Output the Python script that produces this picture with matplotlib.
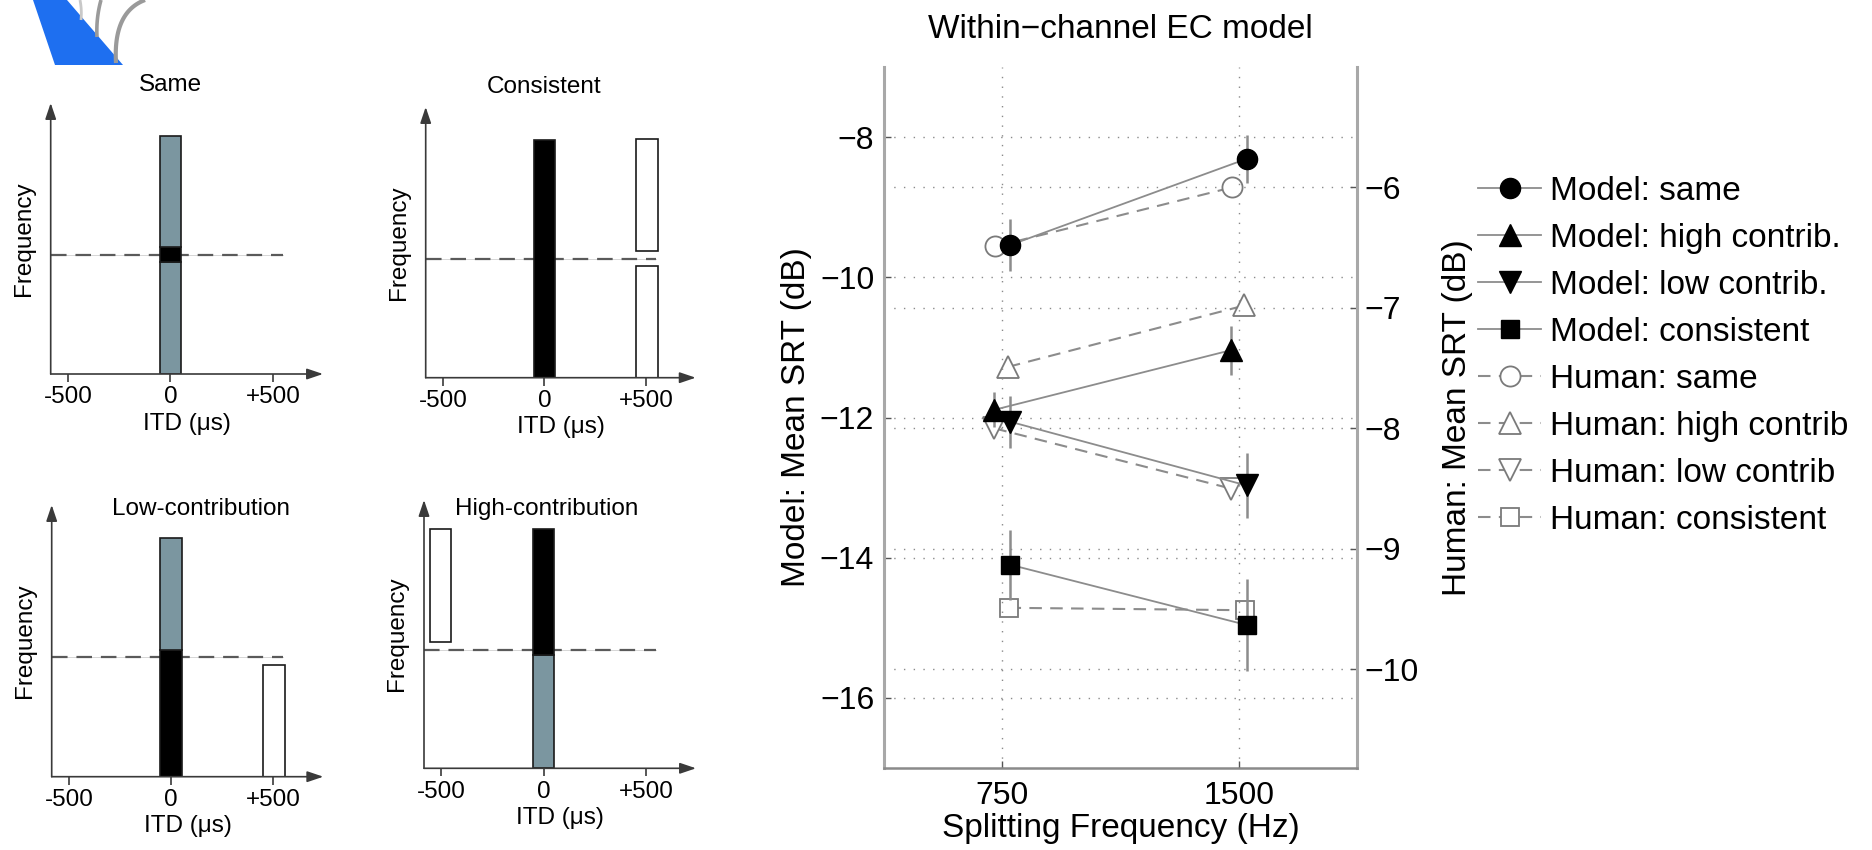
import matplotlib
matplotlib.use('Agg')
import matplotlib.pyplot as plt
import numpy as np
from matplotlib.patches import Polygon
from matplotlib.lines import Line2D

plt.rcParams['font.family'] = ['Liberation Sans', 'DejaVu Sans']

W, H = 1872, 850
fig = plt.figure(figsize=(W / 100, H / 100), dpi=100)

# ------------------------------------------------------------------ data
split_freq = [750, 1500]
freq_ticks = [750, 1500]

model_same = [-9.54, -8.31]
model_same_err = [0.37, 0.34]
model_high = [-11.89, -11.04]
model_high_err = [0.25, 0.35]
model_low = [-12.06, -12.97]
model_low_err = [0.37, 0.46]
model_cons = [-14.10, -14.96]
model_cons_err = [0.50, 0.66]

human_same = [-6.49, -6.00]
human_high = [-7.49, -6.98]
human_low = [-8.00, -8.50]
human_cons = [-9.49, -9.51]

left_ticks = [-16, -14, -12, -10, -8]
right_ticks = [-10, -9, -8, -7, -6]

model_labels = ['Model: same', 'Model: high contrib.', 'Model: low contrib.', 'Model: consistent']
human_labels = ['Human: same', 'Human: high contrib', 'Human: low contrib', 'Human: consistent']

# horizontal jitter (Hz) used in the original to separate the markers
model_jitter = [25, -25, 25, 25]
human_jitter = [-22, 18, -25, 20]

# schematic panels
itd_ticks = [-500, 0, 500]
itd_ticklabels = ['-500', '0', '+500']
panel_titles = ['Same', 'Consistent', 'Low-contribution', 'High-contribution']
# bars: (centre ITD, bottom, top, fill)
same_bars = [(0, 0.0, 0.413, 'grey'), (0, 0.413, 0.469, 'black'), (0, 0.469, 0.878, 'grey')]
consistent_bars = [(0, 0.0, 0.878, 'black'), (505, 0.0, 0.413, 'white'), (505, 0.467, 0.880, 'white')]
low_bars = [(0, 0.0, 0.466, 'black'), (0, 0.466, 0.878, 'grey'), (505, 0.0, 0.411, 'white')]
high_bars = [(0, 0.0, 0.422, 'grey'), (0, 0.422, 0.892, 'black'), (-505, 0.472, 0.892, 'white')]
panel_bars = [same_bars, consistent_bars, low_bars, high_bars]
bar_width = 106
boundary_level = 0.44
boundary_extent = [-585, 550]
itd_range = (-585, 745)

fills = {'grey': '#7b96a0', 'black': '#000000', 'white': '#ffffff'}

# ------------------------------------------------------------------ logo (decorative, cropped)
lax = fig.add_axes([0, 1 - 70 / H, 150 / W, 70 / H])
lax.set_xlim(0, 150)
lax.set_ylim(70, 0)
lax.axis('off')
lax.add_patch(Polygon([[33, 0], [67, 0], [123, 65], [55, 65]], closed=True,
                      facecolor='#1e6ff0', edgecolor='none'))


def bez(p0, p1, p2, n=30):
    t = np.linspace(0, 1, n)[:, None]
    p0, p1, p2 = map(np.array, (p0, p1, p2))
    return (1 - t) ** 2 * p0 + 2 * (1 - t) * t * p1 + t ** 2 * p2


for (p0, p1, p2, lw, col) in [((80, 0), (82, 10), (81, 20), 2.0, '#c8c8c8'),
                              ((101, 0), (96, 18), (97, 37), 2.6, '#9a9a9a'),
                              ((145, 0), (113, 12), (116, 63), 3.0, '#9a9a9a')]:
    c = bez(p0, p1, p2)
    lax.plot(c[:, 0], c[:, 1], color=col, lw=lw, solid_capstyle='butt')

# ------------------------------------------------------------------ schematic panels
# (left px, bottom px from top, width px, height px)
panel_boxes = [(50.7, 374, 272.3, 271), (425.7, 377.7, 270, 270.7),
               (51.7, 776.7, 271.6, 271.7), (424, 768.3, 272, 268.3)]
title_pos = [(0, 1.068), (0, 1.075), (144, 0.985), (17, 0.965)]
axis_col = '#3a3a3a'
small_fs = 17.5

for (l, b, w, h), bars, title, tpos in zip(panel_boxes, panel_bars, panel_titles, title_pos):
    pax = fig.add_axes([l / W, 1 - b / H, w / W, h / H])
    pax.set_xlim(*itd_range)
    pax.set_ylim(0, 1)
    for s in pax.spines.values():
        s.set_visible(False)
    # boundary frequency (dashed)
    pax.plot(boundary_extent, [boundary_level, boundary_level], color='#d0d0d0', lw=0.6, zorder=1)
    pax.plot(boundary_extent, [boundary_level, boundary_level], color='#5a5a5a', lw=1.6,
             ls=(0, (7, 4)), zorder=1.5)
    for cx, y0, y1, f in bars:
        pax.bar(cx, y1 - y0, bottom=y0, width=bar_width, color=fills[f],
                edgecolor='#1a1a1a', linewidth=1.2, zorder=2)
    # axes with arrows
    pax.annotate('', xy=(1, 0), xytext=(0, 0), xycoords='axes fraction',
                 arrowprops=dict(arrowstyle='-|>,head_length=0.65,head_width=0.22',
                                 color=axis_col, lw=1.2, shrinkA=0, shrinkB=0,
                                 mutation_scale=15), annotation_clip=False, zorder=5)
    pax.annotate('', xy=(0, 1), xytext=(0, 0), xycoords='axes fraction',
                 arrowprops=dict(arrowstyle='-|>,head_length=0.65,head_width=0.22',
                                 color=axis_col, lw=1.2, shrinkA=0, shrinkB=0,
                                 mutation_scale=15), annotation_clip=False, zorder=5)
    pax.set_xticks(itd_ticks)
    pax.set_xticklabels(itd_ticklabels)
    pax.set_yticks([])
    pax.tick_params(axis='x', direction='out', length=6, width=1.2, color=axis_col,
                    labelsize=small_fs, pad=3)
    pax.set_xlabel('ITD (μs)', fontsize=small_fs, labelpad=3)
    pax.set_ylabel('Frequency', fontsize=small_fs)
    pax.yaxis.set_label_coords(-0.058, 0.5)
    pax.text(tpos[0], tpos[1], title, transform=pax.get_xaxis_transform(),
             ha='center', va='center', fontsize=small_fs)
    pax.patch.set_visible(False)

# ------------------------------------------------------------------ main chart
ax = fig.add_axes([884 / W, (H - 768) / H, (1357 - 884) / W, (768 - 67) / H])
ax2 = ax.twinx()
ax.set_zorder(3)
ax2.set_zorder(2)
ax.patch.set_visible(False)

ax.set_xlim(375, 1875)
ax.set_ylim(-17, -7)
ax2.set_ylim(-10.82, -5.0)

ax.set_xticks(freq_ticks)
ax.set_xticklabels([str(f) for f in freq_ticks])
ax.set_yticks(left_ticks)
ax.set_yticklabels(['\u2212%d' % abs(v) for v in left_ticks])
ax2.set_yticks(right_ticks)
ax2.set_yticklabels(['\u2212%d' % abs(v) for v in right_ticks])

grid_kw = dict(color='#8a8a8a', lw=1.0, ls=(0, (1, 6)))
ax.xaxis.grid(True, **grid_kw)
ax.yaxis.grid(True, **grid_kw)
ax2.yaxis.grid(True, **grid_kw)
ax.set_axisbelow(True)
ax2.set_axisbelow(True)

for a in (ax, ax2):
    a.spines['top'].set_visible(False)
ax.spines['right'].set_visible(False)
ax2.spines['left'].set_visible(False)
ax2.spines['bottom'].set_visible(False)
ax.spines['left'].set_color('#a8a8a8')
ax.spines['left'].set_linewidth(2.2)
ax2.spines['right'].set_color('#a8a8a8')
ax2.spines['right'].set_linewidth(2.2)
ax.spines['bottom'].set_color('#8a8a8a')
ax.spines['bottom'].set_linewidth(1.8)

tick_fs = 23
lab_fs = 24
ax.tick_params(axis='both', direction='in', length=5, width=1.0, color='#555555',
               labelsize=tick_fs)
ax.tick_params(axis='y', pad=7)
ax.tick_params(axis='x', pad=9)
ax2.tick_params(axis='y', direction='in', length=5, width=1.0, color='#555555',
                labelsize=tick_fs, pad=5)

ax.set_title('Within\u2212channel EC model', fontsize=lab_fs, pad=21)
ax.set_xlabel('Splitting Frequency (Hz)', fontsize=lab_fs, labelpad=2)
ax.set_ylabel('Model: Mean SRT (dB)', fontsize=lab_fs, labelpad=6)
ax2.set_ylabel('Human: Mean SRT (dB)', fontsize=lab_fs, labelpad=17)

x = np.array(split_freq, dtype=float)
markers = ['o', '^', 'v', 's']
msize = {'o': 14.5, '^': 16, 'v': 16, 's': 13}
line_col = '#8c8c8c'

model_vals = [model_same, model_high, model_low, model_cons]
model_errs = [model_same_err, model_high_err, model_low_err, model_cons_err]
human_vals = [human_same, human_high, human_low, human_cons]

handles = []
for vals, mk, dx, lab in zip(human_vals, markers, human_jitter, human_labels):
    ax2.plot(x + dx, vals, color=line_col, lw=1.5, ls=(0, (6, 4)), zorder=3)
    ax2.plot(x + dx, vals, ls='none', marker=mk, ms=msize[mk], mfc='white',
             mec='#7a7a7a', mew=1.3, zorder=4)

for vals, errs, mk, dx, lab in zip(model_vals, model_errs, markers, model_jitter, model_labels):
    ax.errorbar(x + dx, vals, yerr=errs, fmt='none', ecolor=line_col, elinewidth=1.8,
                capsize=0, zorder=3)
    ax.plot(x + dx, vals, color=line_col, lw=1.3, zorder=4)
    ax.plot(x + dx, vals, ls='none', marker=mk, ms=msize[mk], mfc='black',
            mec='black', zorder=6)
    handles.append(Line2D([], [], color=line_col, lw=1.3, marker=mk, ms=msize[mk],
                          mfc='black', mec='black', label=lab))

for mk, lab in zip(markers, human_labels):
    handles.append(Line2D([], [], color=line_col, lw=1.5, ls=(0, (6, 4)), marker=mk,
                          ms=msize[mk], mfc='white', mec='#7a7a7a', mew=1.3, label=lab))

fig.legend(handles=handles, loc='upper left', bbox_to_anchor=(1478 / W, 1 - 176 / H),
           frameon=False, fontsize=lab_fs, handlelength=1.89, handletextpad=0.27,
           borderpad=0, borderaxespad=0, labelspacing=0.48, numpoints=1)

fig.savefig('out.png', dpi=100, facecolor='white')
